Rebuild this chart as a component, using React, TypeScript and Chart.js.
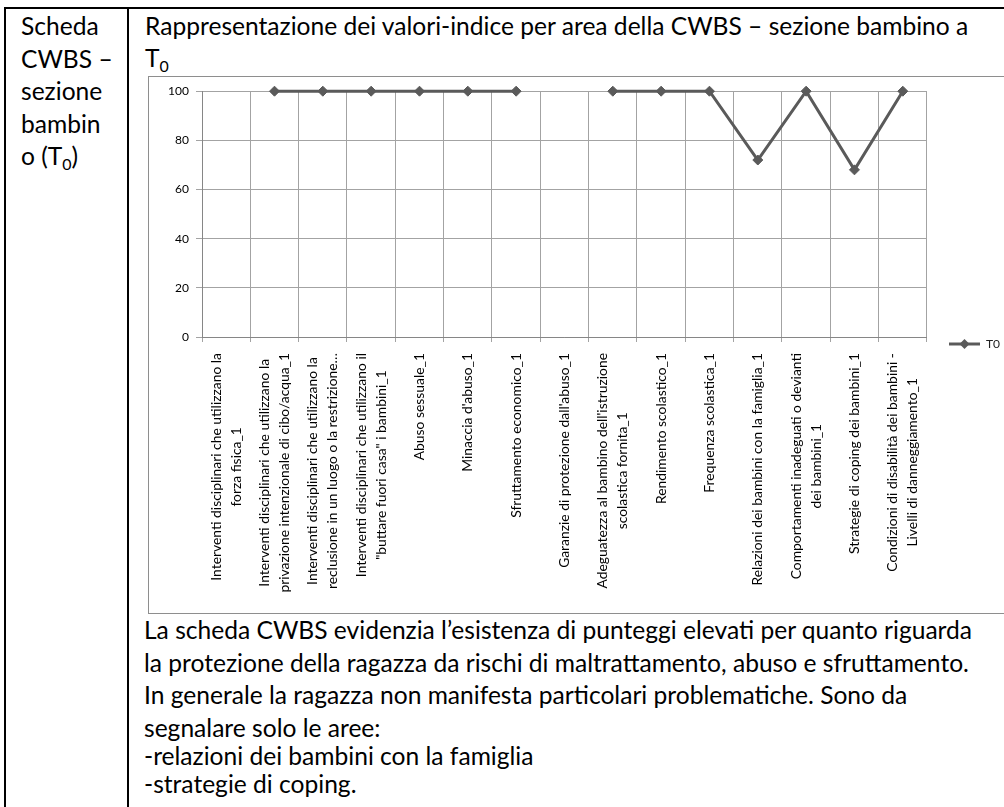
import React, { useEffect, useRef, useState } from 'react';
import { Chart, registerables } from 'chart.js';

Chart.register(...registerables);

// ---------- data ----------
const categories: (string | string[])[] = [
  ['Interventi disciplinari che utilizzano la', 'forza fisica_1'],
  ['Interventi disciplinari che utilizzano la', 'privazione intenzionale di cibo/acqua_1'],
  ['Interventi disciplinari che utilizzano la', 'reclusione in un luogo o la restrizione…'],
  ['Interventi disciplinari che utilizzano il', '"buttare fuori casa" i bambini_1'],
  'Abuso sessuale_1',
  "Minaccia d'abuso_1",
  'Sfruttamento economico_1',
  "Garanzie di protezione dall'abuso_1",
  ["Adeguatezza al bambino dell'istruzione", 'scolastica fornita_1'],
  'Rendimento scolastico_1',
  'Frequenza scolastica_1',
  'Relazioni dei bambini con la famiglia_1',
  ['Comportamenti inadeguati o devianti', 'dei bambini_1'],
  'Strategie di coping dei bambini_1',
  ['Condizioni di disabilità dei bambini -', 'Livelli di danneggiamento_1'],
];
const seriesLabel = 'T0';
const t0Values: (number | null)[] = [null, 100, 100, 100, 100, 100, 100, null, 100, 100, 100, 72, 100, 68, 100];
const yMin = 0;
const yMax = 100;
const yStep = 20;

const leftCellLines = ['Scheda', 'CWBS –', 'sezione', 'bambin'];
const titleLine = 'Rappresentazione dei valori-indice per area della CWBS – sezione bambino a';
const bodyLines = [
  'La scheda CWBS evidenzia l’esistenza di punteggi elevati per quanto riguarda',
  'la protezione della ragazza da rischi di maltrattamento, abuso e sfruttamento.',
  'In generale la ragazza non manifesta particolari problematiche. Sono da',
  'segnalare solo le aree:',
  '-relazioni dei bambini con la famiglia',
  '-strategie di coping.',
];

// ---------- styles ----------
const FONT = "Lato, 'Noto Sans', sans-serif";
const LINE_COLOR = '#5a5a5a';
const GRID_COLOR = '#a3a3a3';
const AXIS_COLOR = '#868686';

function fitSize(text: string, target: number, base: number): number {
  const ctx = document.createElement('canvas').getContext('2d');
  if (!ctx) return base;
  ctx.font = `${base}px ${FONT}`;
  const w = ctx.measureText(text).width;
  return w > 0 ? (base * target) / w : base;
}

function makeLegendSymbol(color: string): HTMLCanvasElement {
  const c = document.createElement('canvas');
  c.width = 31;
  c.height = 12;
  const g = c.getContext('2d')!;
  g.strokeStyle = color;
  g.lineWidth = 3;
  g.beginPath();
  g.moveTo(0, 6);
  g.lineTo(31, 6);
  g.stroke();
  g.fillStyle = color;
  g.beginPath();
  g.moveTo(15.5, 1);
  g.lineTo(20.5, 6);
  g.lineTo(15.5, 11);
  g.lineTo(10.5, 6);
  g.closePath();
  g.fill();
  return c;
}

const centeredTickLabels = {
  id: 'centeredTickLabels',
  afterDraw(chart: any) {
    const scale = chart.scales.x;
    const ctx = chart.ctx as CanvasRenderingContext2D;
    const size = fitSize('Interventi disciplinari che utilizzano la', 228, 12);
    const lineGap = 20;
    ctx.save();
    ctx.font = `${size}px ${FONT}`;
    ctx.fillStyle = '#000';
    ctx.textAlign = 'center';
    ctx.textBaseline = 'middle';
    const top = scale.top + 16;
    categories.forEach((lab, i) => {
      const lines = Array.isArray(lab) ? lab : [lab];
      const x = scale.getPixelForTick(i);
      const maxW = Math.max(...lines.map((l) => ctx.measureText(l).width));
      ctx.save();
      ctx.translate(x, top + maxW / 2);
      ctx.rotate(-Math.PI / 2);
      lines.forEach((l, j) => {
        ctx.fillText(l, 0, (j - (lines.length - 1) / 2) * lineGap);
      });
      ctx.restore();
    });
    ctx.restore();
  },
};

export default function App() {
  const canvasRef = useRef<HTMLCanvasElement>(null);
  const [fs] = useState(() => fitSize(titleLine, 825, 20));

  useEffect(() => {
    if (!canvasRef.current) return;
    Chart.defaults.font.family = FONT;
    const chart = new Chart(canvasRef.current, {
      type: 'line',
      data: {
        labels: categories as any,
        datasets: [
          {
            label: seriesLabel,
            data: t0Values,
            borderColor: LINE_COLOR,
            backgroundColor: LINE_COLOR,
            borderWidth: 3,
            pointStyle: 'rectRot',
            pointRadius: 5,
            pointBorderWidth: 1,
            pointBackgroundColor: LINE_COLOR,
            pointBorderColor: LINE_COLOR,
            spanGaps: false,
            tension: 0,
            clip: false as any,
          },
        ],
      },
      options: {
        animation: false,
        responsive: false,
        layout: { padding: { left: 0, top: 14, bottom: 16, right: 9 } },
        plugins: {
          tooltip: { enabled: false },
          legend: {
            position: 'right',
            align: 'center',
            labels: {
              usePointStyle: true,
              pointStyle: makeLegendSymbol(LINE_COLOR) as any,
              pointStyleWidth: 31,
              padding: 22,
              color: '#222',
              font: { size: 12, family: FONT },
            },
          },
        },
        scales: {
          x: {
            offset: true,
            grid: { offset: true, color: GRID_COLOR, tickLength: 5, drawTicks: true },
            border: { color: AXIS_COLOR },
            ticks: { display: false },
            afterFit: (s: any) => {
              s.height = 260;
            },
          },
          y: {
            min: yMin,
            max: yMax,
            ticks: { stepSize: yStep, color: '#000', padding: 7, font: { size: 12, family: FONT } },
            grid: { color: GRID_COLOR, tickLength: 6 },
            border: { color: AXIS_COLOR },
            afterFit: (s: any) => {
              s.width = 53;
            },
          },
        },
      },
      plugins: [centeredTickLabels],
    });
    return () => chart.destroy();
  }, []);

  const sub = fs * 0.65;
  const bodyBaselines = [639, 672, 704, 737, 765, 793];
  const leftBaselines = [35, 67.5, 100, 132.5];

  return (
    <div
      style={{
        position: 'fixed',
        left: 0,
        top: 0,
        width: 1004,
        height: 807,
        overflow: 'hidden',
        background: '#fff',
      }}
    >
      <svg width={1004} height={807} style={{ position: 'absolute', left: 0, top: 0 }}>
        <rect x={0} y={0} width={1004} height={807} fill="#fff" />
        <rect x={4} y={7} width={1100} height={2} fill="#000" />
        <rect x={4} y={7} width={2} height={900} fill="#000" />
        <rect x={127} y={7} width={2} height={900} fill="#000" />
        <rect x={148.5} y={76.5} width={900} height={537} fill="none" stroke="#8e8e8e" strokeWidth={1} />
        <g fontFamily={FONT} fontSize={fs} fill="#000">
          {leftCellLines.map((t, i) => (
            <text key={i} x={21} y={leftBaselines[i]}>
              {t}
            </text>
          ))}
          <text x={21} y={165}>
            o (T<tspan fontSize={sub} dy={5}>0</tspan>
            <tspan dy={-5}>)</tspan>
          </text>
          <text x={145} y={35}>
            {titleLine}
          </text>
          <text x={145} y={67}>
            T<tspan fontSize={sub} dy={5}>0</tspan>
          </text>
          {bodyLines.map((t, i) => (
            <text key={'b' + i} x={144} y={bodyBaselines[i]}>
              {t}
            </text>
          ))}
        </g>
      </svg>
      <canvas
        ref={canvasRef}
        width={870}
        height={536}
        style={{ position: 'absolute', left: 149, top: 77, width: 870, height: 536 }}
      />
    </div>
  );
}
